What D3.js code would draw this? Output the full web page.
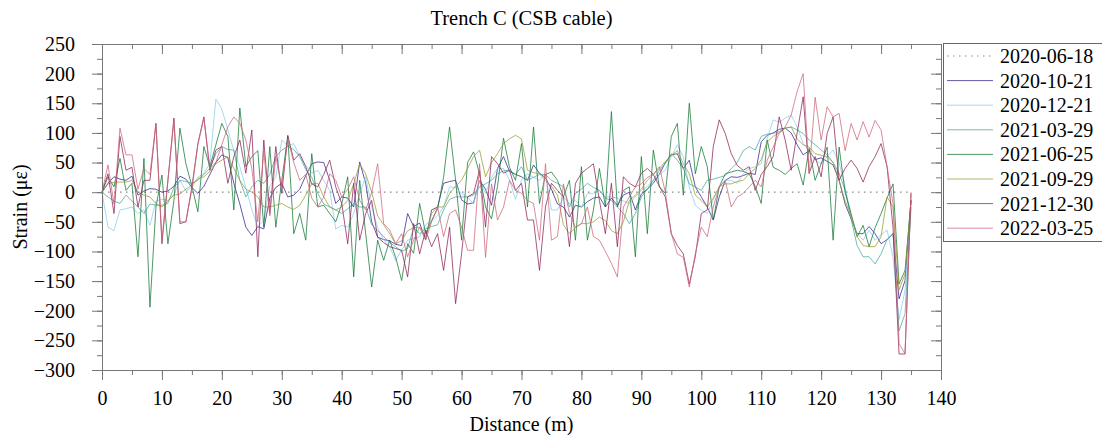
<!DOCTYPE html>
<html>
<head>
<meta charset="utf-8">
<script src="https://cdn.jsdelivr.net/npm/d3@7"></script>
<style>
    body { margin: 0; background: #fff; }
    svg text { font-family: "Liberation Serif", "Times New Roman", serif; }
</style>
</head>
<body>
<svg id="chart"></svg>
<script>
/**
 * Strain along trench C, one line per survey date
 */
window.onload = function(){
    setupChart();
};

const WIDTH = 1102;
const HEIGHT = 435;
const LEFT = 102;
const RIGHT = 941;
const TOP = 44;
const BOTTOM = 370;
const FONT = 20;

const X_TICKS = [0, 10, 20, 30, 40, 50, 60, 70, 80, 90, 100, 110, 120, 130, 140];
const Y_TICKS = [-300, -250, -200, -150, -100, -50, 0, 50, 100, 150, 200, 250];

const DATES = ["2020-06-18", "2020-10-21", "2020-12-21", "2021-03-29",
    "2021-06-25", "2021-09-29", "2021-12-30", "2022-03-25"];

// reference survey, zero strain
const BASE_DIST = [0, 135];
const BASE_VALUES = [0, 0];

// measured surveys, one value per metre from 0 to 135 m
const DISTANCE = d3.range(0, 136);

const S_2020_10_21 = [0,15,26,22,20,27,-5,2,6,5, 0,2,10,27,22,8,-2,10,30,50,
    63,58,15,-20,-59,-73,-58,-62,-10,8, 15,-8,-5,5,28,48,51,50,20,-19,
    -8,-10,-25,51,15,-50,-76,-80,-82,-88, -90,-36,-58,-52,-80,-30,-25,15,18,20,
    -13,-20,-18,20,5,-22,40,60,35,30, 26,20,46,32,24,5,-20,-25,-42,-22,
    -25,-16,-10,-8,-25,-10,-22,-5,0,-30, -3,5,15,30,50,63,65,40,54,9,
    -8,-25,-47,-8,20,26,25,28,32,30, 85,96,100,106,108,100,80,63,70,55,
    58,52,46,20,-20,-45,-70,-70,-58,-70, -87,-80,-70,-180,-149,-14];

const S_2020_12_21 = [0,-59,-65,-30,-28,-25,-36,-30,-56,-15, -12,-14,-3,20,2,8,25,32,48,157,
    140,105,70,43,8,-30,-58,-48,10,25, 88,78,82,60,45,32,37,20,3,-62,
    -56,-59,-36,-3,26,-25,-60,-80,-92,-115, -98,-81,-78,-75,-55,-48,-40,-25,9,8,
    -2,-8,-20,20,-2,25,40,40,20,-12, 20,31,25,20,31,-30,-30,-8,-19,-14,
    -25,-2,-2,3,-8,-8,-10,-15,-19,-8, 3,10,20,30,37,60,80,60,9,-22,
    -30,-36,-13,9,20,20,15,31,40,43, 48,90,122,118,125,130,110,82,71,54,
    48,60,71,50,9,-40,-70,-81,-64,-81, -72,-64,-110,-215,-165,-25];

const S_2021_03_29 = [0,-8,-15,-19,-5,-15,-25,-36,-20,-22, -22,-19,8,20,18,15,20,30,40,65,
    77,72,71,20,-8,9,20,15,30,60, 71,77,72,60,38,25,-2,-20,-25,-30,
    -36,-28,-19,-25,-25,-55,-65,-75,-85,-92, -100,-95,-60,-70,-62,-58,-55,-30,-12,-8,
    -8,-8,-5,9,14,20,31,36,37,30, 43,20,25,30,30,20,15,9,-25,-2,
    5,15,8,3,-10,-14,-25,-36,-53,-36, -8,5,20,37,48,65,54,40,14,9,
    3,20,22,25,28,40,50,70,77,71, 94,98,99,102,108,110,105,99,88,80,
    71,63,50,32,3,-45,-90,-109,-109,-121, -104,-80,-70,-234,-205,-25];

const S_2021_06_25 = [0,26,9,57,3,15,-109,57,-194,-25, 29,-87,-14,108,48,10,-33,77,43,80,
    116,94,-30,142,43,60,70,-59,77,-59, 20,94,-70,-36,-81,65,-25,-22,-36,-50,
    -20,26,-143,20,-70,-160,-81,-115,-81,-110, -149,-87,-103,-19,-70,-48,-28,25,110,20,
    -81,50,68,31,-25,-45,10,91,42,20, 82,-25,110,-19,30,34,20,-8,20,-81,
    43,-81,-30,40,-25,136,-25,3,9,-109, 60,-70,71,9,-2,94,116,-5,150,31,
    77,43,-47,9,31,34,37,35,31,10, -19,88,42,37,30,40,48,12,74,20,
    48,76,-81,76,0,-36,-75,-56,-92,-60, -36,-10,14,-155,-132,-14];

const S_2021_09_29 = [0,14,17,17,17,20,0,-5,-8,-19, -25,-15,-5,-3,5,12,23,26,35,48,
    54,60,40,20,5,0,-8,-25,-25,-22, -19,-25,-29,-22,-5,14,15,-8,-25,-30,
    -25,-14,14,48,31,0,-40,-55,-70,-87, -82,-65,-60,-59,-75,-36,-25,-25,-2,10,
    20,40,60,71,26,50,65,82,90,96, 90,37,33,31,20,10,-5,-55,-70,-60,
    -53,-53,-50,-42,-48,-65,-70,-50,-14,-5, 5,20,30,40,52,62,70,48,31,-5,
    -14,-25,-10,9,14,14,18,20,31,40, 55,85,94,100,108,110,90,80,76,65,
    62,60,50,20,-15,-40,-75,-90,-92,-92, -75,-8,-25,-165,-138,-14];

const S_2021_12_30 = [0,31,-36,94,37,42,-25,20,20,116, -87,20,125,-53,-50,9,82,127,37,71,
    77,15,60,88,32,105,-109,88,-36,77, -2,96,54,65,43,14,9,30,54,9,
    -19,-87,15,-81,-36,-14,-76,-85,-92,-95, -98,-143,-53,-104,-64,-92,-70,-132,-59,-188,
    -104,-8,-2,37,-59,60,48,32,37,3, 15,-47,-47,-132,-25,15,3,-8,-92,15,
    32,40,48,-14,-70,15,-92,26,15,9, 32,40,30,10,-8,-70,-90,-104,-155,-109,
    -36,-30,77,122,99,65,45,37,43,3, 30,43,60,127,88,37,100,161,32,60,
    26,99,127,20,40,54,40,17,43,60, 82,43,-60,-273,-273,-2];

const S_2022_03_25 = [0,46,-20,108,63,63,5,40,30,116, -80,20,120,-50,-50,5,80,125,40,50,
    80,110,127,116,88,40,-50,70,-40,60, 10,90,50,20,30,-10,-25,-8,31,20,
    -8,5,26,-14,-30,0,48,-53,-64,-87, -70,-109,-81,-59,-81,-50,-25,-75,-36,-30,
    -59,-98,-98,48,-110,14,-47,-25,20,3, -2,-14,-19,-81,48,-81,-75,14,-36,-59,
    -53,-25,-75,-81,-100,-120,-143,-25,-8,9, 14,25,30,43,0,-70,-104,-110,-160,-104,
    -59,-75,-25,9,20,-25,-8,-2,9,20, 9,54,76,99,110,130,170,200,31,160,
    88,144,127,133,70,116,88,119,93,121, 105,43,-20,-255,-273,0];

const SERIES = [S_2020_10_21, S_2020_12_21, S_2021_03_29, S_2021_06_25,
    S_2021_09_29, S_2021_12_30, S_2022_03_25];

const COLOURS = ["#888888", "#332288", "#88CCEE", "#44AA99", "#117733",
    "#999933", "#882255", "#CC6677"];

let xScale = d3.scaleLinear()
    .domain([0, 140])
    .range([LEFT, RIGHT]);

let yScale = d3.scaleLinear()
    .domain([-300, 250])
    .range([BOTTOM, TOP]);

function styleAxis(g) {
    g.selectAll("path, line").attr("stroke", "#777").attr("stroke-width", 1);
    g.selectAll("text")
        .attr("fill", "#000")
        .style("font-family", '"Liberation Serif", "Times New Roman", serif')
        .style("font-size", FONT + "px");
    return g;
}

function drawAxes(svg) {
    let minorX = d3.range(0, 141, 5);
    let minorY = d3.range(-300, 251, 25);

    // minor ticks first, major axes on top
    svg.append("g").attr("transform", "translate(0," + BOTTOM + ")")
        .call(d3.axisBottom(xScale).tickValues(minorX).tickSize(5).tickFormat(""))
        .call(styleAxis);
    svg.append("g").attr("transform", "translate(0," + TOP + ")")
        .call(d3.axisTop(xScale).tickValues(minorX).tickSize(-5).tickFormat(""))
        .call(styleAxis);
    svg.append("g").attr("transform", "translate(" + LEFT + ",0)")
        .call(d3.axisLeft(yScale).tickValues(minorY).tickSize(5).tickFormat(""))
        .call(styleAxis);
    svg.append("g").attr("transform", "translate(" + RIGHT + ",0)")
        .call(d3.axisRight(yScale).tickValues(minorY).tickSize(-5).tickFormat(""))
        .call(styleAxis);

    svg.append("g").attr("transform", "translate(0," + BOTTOM + ")")
        .call(d3.axisBottom(xScale).tickValues(X_TICKS).tickSize(10).tickPadding(11))
        .call(styleAxis);
    svg.append("g").attr("transform", "translate(0," + TOP + ")")
        .call(d3.axisTop(xScale).tickValues(X_TICKS).tickSize(-10).tickFormat(""))
        .call(styleAxis);
    svg.append("g").attr("transform", "translate(" + LEFT + ",0)")
        .call(d3.axisLeft(yScale).tickValues(Y_TICKS).tickSize(10).tickPadding(17))
        .call(styleAxis);
    svg.append("g").attr("transform", "translate(" + RIGHT + ",0)")
        .call(d3.axisRight(yScale).tickValues(Y_TICKS).tickSize(-10).tickFormat(""))
        .call(styleAxis);
}

function drawLines(svg) {
    let line = d3.line()
        .x(function (d) { return xScale(d[0]); })
        .y(function (d) { return yScale(d[1]); });

    svg.append("path")
        .attr("d", line(d3.zip(BASE_DIST, BASE_VALUES)))
        .attr("fill", "none")
        .attr("stroke", COLOURS[0])
        .attr("stroke-width", 1.2)
        .attr("stroke-dasharray", "1.5,4.5");

    SERIES.forEach(function (values, i) {
        svg.append("path")
            .attr("d", line(d3.zip(DISTANCE, values)))
            .attr("fill", "none")
            .attr("stroke", COLOURS[i + 1])
            .attr("stroke-opacity", 0.75)
            .attr("stroke-width", 1)
            .attr("stroke-linejoin", "round");
    });
}

function drawLegend(svg) {
    let g = svg.append("g");
    g.append("rect")
        .attr("x", 943.5).attr("y", 43.5)
        .attr("width", 170).attr("height", 198)
        .attr("fill", "#fff")
        .attr("stroke", "#666");

    DATES.forEach(function (date, i) {
        let y = 56 + i * 24.6;
        g.append("line")
            .attr("x1", 947).attr("x2", 993)
            .attr("y1", y).attr("y2", y)
            .attr("stroke", COLOURS[i])
            .attr("stroke-opacity", i === 0 ? 1 : 0.75)
            .attr("stroke-width", i === 0 ? 1.2 : 1)
            .attr("stroke-dasharray", i === 0 ? "1.5,4.5" : null);
        g.append("text")
            .attr("x", 1000).attr("y", y)
            .attr("dy", "0.35em")
            .style("font-size", FONT + "px")
            .text(date);
    });
}

function setupChart(){
    let svg = d3.select("#chart")
        .attr("width", WIDTH)
        .attr("height", HEIGHT);

    drawLines(svg);
    drawAxes(svg);
    drawLegend(svg);

    svg.append("text")
        .attr("x", (LEFT + RIGHT) / 2).attr("y", 25)
        .attr("text-anchor", "middle")
        .style("font-size", (FONT + 0.5) + "px")
        .text("Trench C (CSB cable)");

    svg.append("text")
        .attr("x", (LEFT + RIGHT) / 2).attr("y", 431)
        .attr("text-anchor", "middle")
        .style("font-size", FONT + "px")
        .text("Distance (m)");

    svg.append("text")
        .attr("transform", "translate(27," + (TOP + BOTTOM) / 2 + ") rotate(-90)")
        .attr("text-anchor", "middle")
        .style("font-size", FONT + "px")
        .text("Strain (με)");
}
</script>
</body>
</html>
